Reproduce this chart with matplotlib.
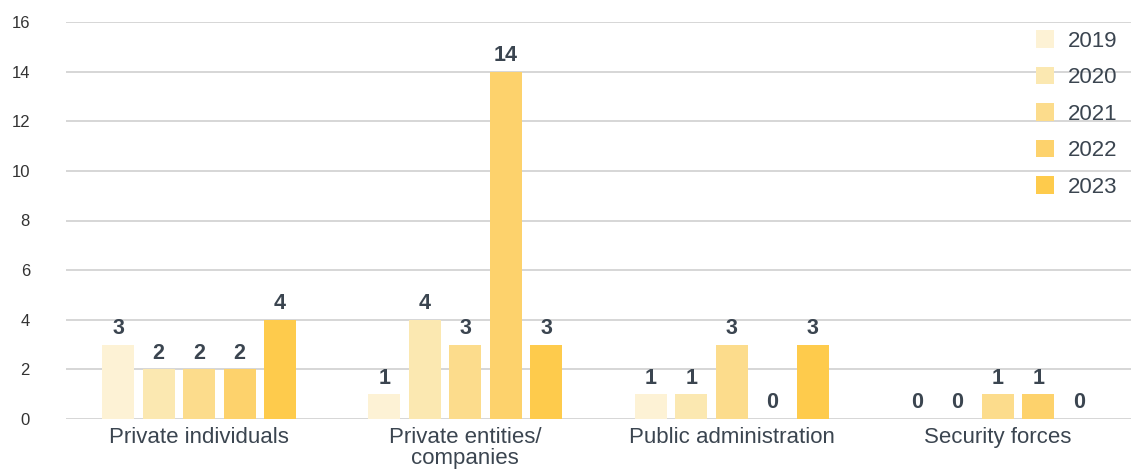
import numpy as np
import matplotlib
matplotlib.use('Agg')
import matplotlib.pyplot as plt
from matplotlib.patches import Patch

categories = ['Private individuals', 'Private entities/\ncompanies',
              'Public administration', 'Security forces']
years = ['2019', '2020', '2021', '2022', '2023']
v2019 = [3, 1, 1, 0]
v2020 = [2, 4, 1, 0]
v2021 = [2, 3, 3, 1]
v2022 = [2, 14, 0, 1]
v2023 = [4, 3, 3, 0]
colors = ['#fdf2d5', '#fbe8b1', '#fcdc8c', '#fdd26c', '#fecb4c']

plt.rcParams['font.family'] = ['Liberation Sans', 'DejaVu Sans']
text_col = '#3b4550'

fig = plt.figure(figsize=(11.31, 4.71), dpi=100)
ax = fig.add_axes([66 / 1131, 52 / 471, 1065 / 1131, 397 / 471])

series = [v2019, v2020, v2021, v2022, v2023]
x = np.arange(len(categories)) + 0.5
step = 0.152
width = 0.12
for i, (vals, c) in enumerate(zip(series, colors)):
    bars = ax.bar(x + (i - 2) * step, vals, width=width, color=c, zorder=2)
    ax.bar_label(bars, padding=4, fontsize=15.5, fontweight='bold', color=text_col)

ax.set_xlim(0, 4)
ax.set_ylim(0, 16)
ax.set_yticks(range(0, 17, 2))
ax.grid(axis='y', color='#d0d0d0', linewidth=1.2, zorder=0)
ax.set_axisbelow(True)
for s in ax.spines.values():
    s.set_visible(False)
ax.tick_params(axis='y', length=0, pad=26, labelsize=12, labelcolor='#333333')
ax.tick_params(axis='x', length=0, pad=6, labelsize=16, labelcolor=text_col)
ax.set_xticks(x)
ax.set_xticklabels(categories, linespacing=0.95)

handles = [Patch(facecolor=c, edgecolor='none') for c in colors]
ax.legend(handles, years, loc='upper right', bbox_to_anchor=(1.002, 1.018),
          frameon=False, fontsize=16, labelcolor=text_col,
          handlelength=0.82, handleheight=0.82, handletextpad=0.64,
          labelspacing=0.68, borderaxespad=0.3)

fig.savefig('out.png', dpi=100)
